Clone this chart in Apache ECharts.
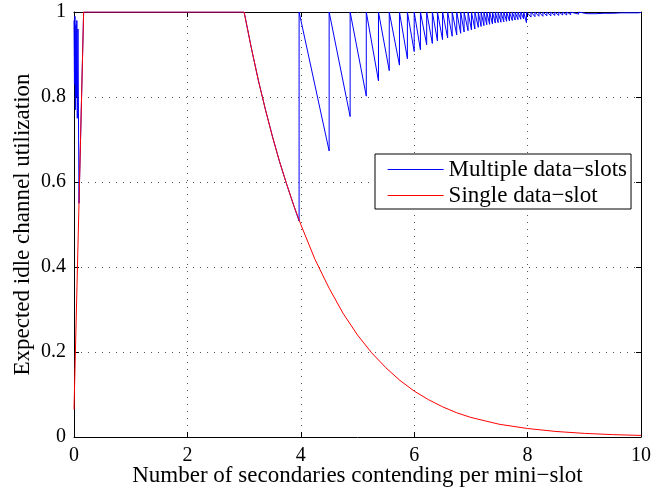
<!DOCTYPE html>
<html>
<head>
<meta charset="utf-8">
<script src="https://cdn.jsdelivr.net/npm/echarts@6/dist/echarts.min.js"></script>
<style>html,body{margin:0;padding:0;background:#fff}#c{width:668px;height:490px}</style>
</head>
<body>
<div id="c"></div>
<script>
// ---- data ----
const xTicks = [0, 2, 4, 6, 8, 10];
const yTicks = [0, 0.2, 0.4, 0.6, 0.8, 1];
const seriesNames = ['Multiple data\u2212slots', 'Single data\u2212slot'];
const seriesColors = ['#0000ff', '#ff0000'];

// Single data-slot (red)
const redX = [0, 0.17, 3, 3.125, 3.25, 3.375, 3.5, 3.625, 3.75, 3.875, 4, 4.25, 4.5, 4.75, 5, 5.25, 5.5, 5.75, 6, 6.25, 6.5, 6.75, 7, 7.5, 8, 8.5, 9, 9.5, 10];
const redY = [0.065, 1, 1, 0.917, 0.84, 0.771, 0.707, 0.648, 0.595, 0.545, 0.5, 0.418, 0.35, 0.29, 0.24, 0.198, 0.163, 0.133, 0.108, 0.088, 0.071, 0.057, 0.046, 0.03, 0.02, 0.013, 0.0085, 0.0056, 0.0037];

// Multiple data-slots (blue): head part (spikes near 0, plateau, shared decay until the first jump)
const blueHeadX = [0, 0.008, 0.016, 0.025, 0.033, 0.042, 0.05, 0.058, 0.07, 0.088, 0.17, 3, 3.125, 3.25, 3.375, 3.5, 3.625, 3.75, 3.875, 3.97, 3.97];
const blueHeadY = [0.98, 0.83, 0.99, 0.77, 0.97, 0.8, 0.98, 0.75, 0.96, 0.55, 1, 1, 0.917, 0.84, 0.771, 0.707, 0.648, 0.595, 0.545, 0.508, 1];
// saw-tooth bottoms (each tooth falls from 1 to this point, then jumps back to 1)
const toothX = [4.50, 4.87, 5.155, 5.37, 5.56, 5.74, 5.88, 6.00, 6.11, 6.22, 6.32, 6.41, 6.50, 6.59, 6.67, 6.75, 6.82, 6.88, 6.95, 7.01, 7.07, 7.13, 7.18, 7.23, 7.28, 7.33, 7.38, 7.43, 7.48, 7.53, 7.58, 7.63, 7.68, 7.73, 7.78, 7.83, 7.88, 7.93, 7.98, 8.06, 8.13, 8.2, 8.27, 8.34, 8.41, 8.48, 8.55, 8.62, 8.69, 8.76, 8.9, 9.05, 9.2, 9.35, 9.5, 9.65, 9.8, 9.95];
const toothY = [0.673, 0.754, 0.802, 0.838, 0.862, 0.875, 0.890, 0.907, 0.911, 0.923, 0.926, 0.932, 0.935, 0.939, 0.943, 0.946, 0.950, 0.953, 0.956, 0.958, 0.960, 0.964, 0.966, 0.968, 0.970, 0.971, 0.972, 0.974, 0.975, 0.976, 0.977, 0.978, 0.979, 0.980, 0.981, 0.982, 0.983, 0.984, 0.975, 0.988, 0.989, 0.99, 0.99, 0.991, 0.991, 0.992, 0.992, 0.993, 0.993, 0.994, 0.995, 0.996, 0.996, 0.997, 0.997, 0.998, 0.998, 0.998];
const blueEndX = [10];
const blueEndY = [0.999];

// ---- build series points ----
const redData = redX.map((x, i) => [x, redY[i]]);
const blueData = blueHeadX.map((x, i) => [x, blueHeadY[i]]);
toothX.forEach((x, i) => { blueData.push([x, toothY[i]]); blueData.push([x, 1]); });
blueEndX.forEach((x, i) => blueData.push([x, blueEndY[i]]));

const FONT = 'Liberation Serif';
const chart = echarts.init(document.getElementById('c'), null, { renderer: 'canvas' });
const gridLine = { show: true, lineStyle: { color: '#555', type: [1, 6], width: 1 } };
chart.setOption({
  backgroundColor: '#ffffff',
  animation: false,
  grid: { left: 74, right: 27, top: 12, bottom: 53, containLabel: false, outerBoundsMode: 'none' },
  legend: {
    orient: 'vertical', left: 375, top: 154,
    data: seriesNames.map((n, i) => ({
      name: n,
      itemStyle: { color: seriesColors[i], opacity: 0 },
      lineStyle: { color: seriesColors[i], width: 1.2, opacity: 1 }
    })),
    itemWidth: 56, itemHeight: 10, itemGap: 3,
    padding: [4, 4, 2, 12],
    borderColor: '#000', borderWidth: 1, backgroundColor: '#fff',
    textStyle: { fontFamily: FONT, fontSize: 23, lineHeight: 23, color: '#000', padding: [0, 0, 0, 0] }
  },
  xAxis: [{
    type: 'value', min: 0, max: 10, interval: 2, position: 'bottom',
    name: 'Number of secondaries contending per mini\u2212slot', nameLocation: 'middle', nameGap: 27,
    nameMoveOverlap: false,
    nameTextStyle: { fontFamily: FONT, fontSize: 23, color: '#000' },
    axisLine: { show: true, onZero: false, lineStyle: { color: '#000', width: 1 } },
    axisTick: { show: true, inside: true, length: 5, lineStyle: { color: '#000' } },
    axisLabel: { fontFamily: FONT, fontSize: 20, color: '#000', margin: 9, formatter: v => String(v) },
    splitLine: gridLine
  }, {
    type: 'value', min: 0, max: 10, interval: 2, position: 'top',
    axisLine: { show: true, onZero: false, lineStyle: { color: '#000', width: 1 } },
    axisTick: { show: true, inside: true, length: 5, lineStyle: { color: '#000' } },
    axisLabel: { show: false }, splitLine: { show: false }
  }],
  yAxis: [{
    type: 'value', min: 0, max: 1, interval: 0.2, position: 'left',
    name: 'Expected idle channel utilization', nameLocation: 'middle', nameGap: 40,
    nameMoveOverlap: false,
    nameTextStyle: { fontFamily: FONT, fontSize: 23, color: '#000' },
    axisLine: { show: true, onZero: false, lineStyle: { color: '#000', width: 1 } },
    axisTick: { show: true, inside: true, length: 5, lineStyle: { color: '#000' } },
    axisLabel: { fontFamily: FONT, fontSize: 20, color: '#000', margin: 8, formatter: v => String(Math.round(v * 10) / 10) },
    splitLine: gridLine
  }, {
    type: 'value', min: 0, max: 1, interval: 0.2, position: 'right',
    axisLine: { show: true, onZero: false, lineStyle: { color: '#000', width: 1 } },
    axisTick: { show: true, inside: true, length: 5, lineStyle: { color: '#000' } },
    axisLabel: { show: false }, splitLine: { show: false }
  }],
  series: [{
    name: seriesNames[0], type: 'line', data: blueData, symbol: 'none',
    lineStyle: { color: seriesColors[0], width: 1 }, itemStyle: { color: seriesColors[0] }, z: 3
  }, {
    name: seriesNames[1], type: 'line', data: redData, symbol: 'none',
    lineStyle: { color: seriesColors[1], width: 1 }, itemStyle: { color: seriesColors[1] }, z: 4
  }]
});
</script>
</body>
</html>
